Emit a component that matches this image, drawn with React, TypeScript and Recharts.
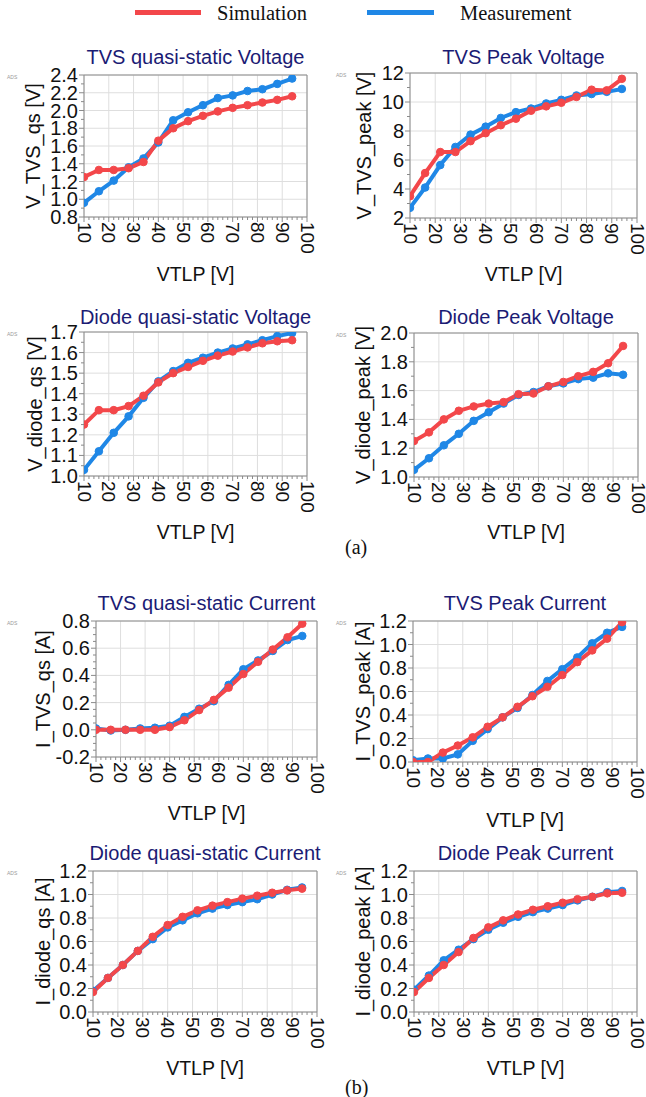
import React from "react";
import {
  LineChart,
  Line,
  XAxis,
  YAxis,
  CartesianGrid,
  ReferenceArea,
} from "recharts";

// VTLP sweep points (x) and axis ticks
const VTLP = [10, 16, 22, 28, 34, 40, 46, 52, 58, 64, 70, 76, 82, 88, 94];
const X_TICKS = [10, 20, 30, 40, 50, 60, 70, 80, 90, 100];

// (a) voltages
const SIM_TVS_QS_V = [1.25, 1.33, 1.33, 1.35, 1.42, 1.66, 1.8, 1.88, 1.94, 1.99, 2.03, 2.06, 2.09, 2.12, 2.16];
const MEAS_TVS_QS_V = [0.96, 1.09, 1.21, 1.36, 1.46, 1.64, 1.89, 1.98, 2.06, 2.14, 2.17, 2.22, 2.24, 2.3, 2.36];
const SIM_TVS_PEAK_V = [3.5, 5.1, 6.55, 6.55, 7.3, 7.85, 8.4, 8.85, 9.4, 9.7, 9.95, 10.35, 10.85, 10.8, 11.6];
const MEAS_TVS_PEAK_V = [2.7, 4.1, 5.65, 6.9, 7.75, 8.3, 8.9, 9.3, 9.55, 9.9, 10.15, 10.45, 10.55, 10.7, 10.9];
const SIM_DIODE_QS_V = [1.25, 1.32, 1.32, 1.34, 1.39, 1.455, 1.5, 1.53, 1.56, 1.585, 1.605, 1.625, 1.645, 1.655, 1.66];
const MEAS_DIODE_QS_V = [1.03, 1.12, 1.21, 1.29, 1.38, 1.46, 1.51, 1.55, 1.575, 1.6, 1.62, 1.64, 1.66, 1.68, 1.695];
const SIM_DIODE_PEAK_V = [1.25, 1.31, 1.4, 1.46, 1.49, 1.51, 1.52, 1.575, 1.58, 1.63, 1.66, 1.7, 1.73, 1.79, 1.91];
const MEAS_DIODE_PEAK_V = [1.05, 1.13, 1.22, 1.3, 1.39, 1.45, 1.51, 1.57, 1.59, 1.63, 1.65, 1.68, 1.69, 1.72, 1.71];

// (b) currents
const SIM_TVS_QS_I = [0.0, 0.0, 0.0, 0.0, 0.0, 0.02, 0.07, 0.145, 0.22, 0.31, 0.41, 0.5, 0.59, 0.68, 0.78];
const MEAS_TVS_QS_I = [0.01, -0.005, 0.0, 0.01, 0.015, 0.03, 0.095, 0.155, 0.21, 0.33, 0.445, 0.51, 0.58, 0.66, 0.69];
const SIM_TVS_PEAK_I = [0.0, 0.0, 0.08, 0.14, 0.21, 0.3, 0.38, 0.47, 0.56, 0.64, 0.74, 0.85, 0.95, 1.05, 1.19];
const MEAS_TVS_PEAK_I = [0.015, 0.03, 0.03, 0.065, 0.18, 0.28, 0.38, 0.46, 0.57, 0.69, 0.79, 0.89, 1.01, 1.1, 1.15];
const SIM_DIODE_QS_I = [0.17, 0.29, 0.4, 0.52, 0.64, 0.74, 0.81, 0.865, 0.905, 0.935, 0.965, 0.99, 1.015, 1.035, 1.05];
const MEAS_DIODE_QS_I = [0.18, 0.29, 0.4, 0.52, 0.62, 0.72, 0.78, 0.84, 0.88, 0.91, 0.935, 0.96, 1.0, 1.04, 1.06];
const SIM_DIODE_PEAK_I = [0.17, 0.29, 0.4, 0.51, 0.63, 0.72, 0.78, 0.83, 0.87, 0.9, 0.93, 0.96, 0.98, 1.01, 1.015];
const MEAS_DIODE_PEAK_I = [0.19, 0.31, 0.44, 0.53, 0.62, 0.7, 0.76, 0.81, 0.85, 0.88, 0.91, 0.95, 0.98, 1.02, 1.03];

// y ticks
const Y_TVS_QS_V = [0.8, 1.0, 1.2, 1.4, 1.6, 1.8, 2.0, 2.2, 2.4];
const Y_TVS_PEAK_V = [2, 4, 6, 8, 10, 12];
const Y_DIODE_QS_V = [1.0, 1.1, 1.2, 1.3, 1.4, 1.5, 1.6, 1.7];
const Y_DIODE_PEAK_V = [1.0, 1.2, 1.4, 1.6, 1.8, 2.0];
const Y_TVS_QS_I = [-0.2, 0.0, 0.2, 0.4, 0.6, 0.8];
const Y_CURRENT = [0.0, 0.2, 0.4, 0.6, 0.8, 1.0, 1.2];

const RED = "#f3474a";
const BLUE = "#1f87e6";
const NAVY = "#1b1b74";
const SANS = "'Liberation Sans', Arial, sans-serif";
const SERIF = "'Liberation Serif', 'Times New Roman', serif";

const YW = 70;
const MT = 10;
const XH = 50;
const MR = 10;

type Box = { l: number; t: number; r: number; b: number };

function xTick(props: any) {
  const { x, y, payload } = props;
  const major = payload.value % 10 === 0;
  return (
    <g>
      <line x1={x} x2={x} y1={y} y2={y + (major ? 5 : 3)} stroke="#8a8a8a" />
      {major && (
        <text
          x={x}
          y={y + 5}
          transform={`rotate(90 ${x} ${y + 5})`}
          textAnchor="start"
          dominantBaseline="central"
          fontSize={19}
          fontFamily={SANS}
          fill="#111"
        >
          {payload.value}
        </text>
      )}
    </g>
  );
}

function Panel({
  sim,
  meas,
  yTicks,
  yMinor,
  dec,
  box,
}: {
  sim: number[];
  meas: number[];
  yTicks: number[];
  yMinor: number;
  dec: number;
  box: Box;
}) {
  const { l, t, r, b } = box;
  const rows = VTLP.map((v, i) => ({ v, sim: sim[i], meas: meas[i] }));
  const yMin = yTicks[0];
  const yMax = yTicks[yTicks.length - 1];
  const n = Math.round((yMax - yMin) / yMinor);
  const yAll = Array.from({ length: n + 1 }, (_, i) => +(yMin + i * yMinor).toFixed(4));
  const xAll = Array.from({ length: 46 }, (_, i) => 10 + 2 * i);
  const isMajor = (v: number) => yTicks.some((k) => Math.abs(k - v) < 1e-6);

  const yTick = (props: any) => {
    const { x, y, payload } = props;
    const major = isMajor(payload.value);
    return (
      <g>
        <line x1={x - (major ? 5 : 3)} x2={x} y1={y} y2={y} stroke="#8a8a8a" />
        {major && (
          <text
            x={x - 6}
            y={y}
            textAnchor="end"
            dominantBaseline="central"
            fontSize={20}
            fontFamily={SANS}
            fill="#111"
          >
            {payload.value.toFixed(dec)}
          </text>
        )}
      </g>
    );
  };

  return (
    <div style={{ position: "absolute", left: l - YW, top: t - MT }}>
      <LineChart
        width={r - l + YW + MR}
        height={b - t + MT + XH}
        data={rows}
        margin={{ top: MT, right: MR, bottom: 0, left: 0 }}
      >
        <CartesianGrid stroke="#dedede" horizontalValues={yTicks} verticalValues={X_TICKS} />
        <XAxis
          type="number"
          dataKey="v"
          domain={[10, 100]}
          ticks={xAll}
          interval={0}
          height={XH}
          tickSize={0}
          tickMargin={0}
          axisLine={false}
          tick={xTick}
          allowDataOverflow
        />
        <YAxis
          type="number"
          domain={[yMin, yMax]}
          ticks={yAll}
          interval={0}
          width={YW}
          tickSize={0}
          tickMargin={0}
          axisLine={false}
          tick={yTick}
          allowDataOverflow
        />
        <ReferenceArea x1={10} x2={100} y1={yMin} y2={yMax} fill="none" stroke="#8c8c8c" ifOverflow="visible" />
        <Line
          type="linear"
          dataKey="meas"
          stroke={BLUE}
          strokeWidth={4}
          dot={{ r: 3.8, fill: BLUE, stroke: BLUE, strokeWidth: 1 }}
          isAnimationActive={false}
        />
        <Line
          type="linear"
          dataKey="sim"
          stroke={RED}
          strokeWidth={4}
          dot={{ r: 3.8, fill: RED, stroke: RED, strokeWidth: 1 }}
          isAnimationActive={false}
        />
      </LineChart>
    </div>
  );
}

const PANELS = [
  { title: "TVS quasi-static Voltage", yLabel: "V_TVS_qs [V]", sim: SIM_TVS_QS_V, meas: MEAS_TVS_QS_V, yTicks: Y_TVS_QS_V, yMinor: 0.1, dec: 1, box: { l: 84, t: 75, r: 307, b: 217 }, titleY: 57, xLabelY: 274, yLabelX: 33 },
  { title: "TVS Peak Voltage", yLabel: "V_TVS_peak [V]", sim: SIM_TVS_PEAK_V, meas: MEAS_TVS_PEAK_V, yTicks: Y_TVS_PEAK_V, yMinor: 1, dec: 0, box: { l: 410, t: 73, r: 637, b: 218 }, titleY: 57, xLabelY: 274, yLabelX: 364 },
  { title: "Diode quasi-static Voltage", yLabel: "V_diode_qs [V]", sim: SIM_DIODE_QS_V, meas: MEAS_DIODE_QS_V, yTicks: Y_DIODE_QS_V, yMinor: 0.05, dec: 1, box: { l: 84, t: 332, r: 307, b: 476 }, titleY: 317, xLabelY: 532, yLabelX: 35 },
  { title: "Diode Peak Voltage", yLabel: "V_diode_peak [V]", sim: SIM_DIODE_PEAK_V, meas: MEAS_DIODE_PEAK_V, yTicks: Y_DIODE_PEAK_V, yMinor: 0.1, dec: 1, box: { l: 414, t: 333, r: 638, b: 477 }, titleY: 317, xLabelY: 532, yLabelX: 363 },
  { title: "TVS quasi-static Current", yLabel: "I_TVS_qs [A]", sim: SIM_TVS_QS_I, meas: MEAS_TVS_QS_I, yTicks: Y_TVS_QS_I, yMinor: 0.05, dec: 1, box: { l: 96, t: 621, r: 317, b: 757 }, titleY: 603, xLabelY: 813, yLabelX: 43 },
  { title: "TVS Peak Current", yLabel: "I_TVS_peak [A]", sim: SIM_TVS_PEAK_I, meas: MEAS_TVS_PEAK_I, yTicks: Y_CURRENT, yMinor: 0.1, dec: 1, box: { l: 413, t: 621, r: 637, b: 762 }, titleY: 603, xLabelY: 820, yLabelX: 363 },
  { title: "Diode quasi-static Current", yLabel: "I_diode_qs [A]", sim: SIM_DIODE_QS_I, meas: MEAS_DIODE_QS_I, yTicks: Y_CURRENT, yMinor: 0.1, dec: 1, box: { l: 93, t: 871, r: 317, b: 1012 }, titleY: 853, xLabelY: 1068, yLabelX: 43 },
  { title: "Diode Peak Current", yLabel: "I_diode_peak [A]", sim: SIM_DIODE_PEAK_I, meas: MEAS_DIODE_PEAK_I, yTicks: Y_CURRENT, yMinor: 0.1, dec: 1, box: { l: 414, t: 871, r: 637, b: 1012 }, titleY: 853, xLabelY: 1068, yLabelX: 363 },
];

export default function App() {
  return (
    <div style={{ position: "absolute", left: 0, top: 0, width: 646, height: 1097, background: "#fff", overflow: "hidden" }}>
      {PANELS.map((p, i) => (
        <Panel key={i} sim={p.sim} meas={p.meas} yTicks={p.yTicks} yMinor={p.yMinor} dec={p.dec} box={p.box} />
      ))}
      <svg width={646} height={1097} style={{ position: "absolute", left: 0, top: 0, pointerEvents: "none" }}>
        {/* legend */}
        <line x1={135} x2={201} y1={12.5} y2={12.5} stroke={RED} strokeWidth={5} />
        <text x={217} y={13} dominantBaseline="central" fontSize={20.5} fontFamily={SERIF} fill="#111">Simulation</text>
        <line x1={367} x2={434} y1={12.5} y2={12.5} stroke={BLUE} strokeWidth={5} />
        <text x={460} y={13} dominantBaseline="central" fontSize={20.5} fontFamily={SERIF} fill="#111">Measurement</text>

        {PANELS.map((p, i) => {
          const cx = (p.box.l + p.box.r) / 2;
          const cy = (p.box.t + p.box.b) / 2;
          const left = p.box.l < 200;
          return (
            <g key={i}>
              <text x={cx} y={p.titleY} textAnchor="middle" dominantBaseline="central" fontSize={20} fontFamily={SANS} fill={NAVY}>
                {p.title}
              </text>
              <text x={cx} y={p.xLabelY} textAnchor="middle" dominantBaseline="central" fontSize={19.5} fontFamily={SANS} fill="#111">
                VTLP [V]
              </text>
              <text
                x={p.yLabelX}
                y={cy}
                transform={`rotate(-90 ${p.yLabelX} ${cy})`}
                textAnchor="middle"
                dominantBaseline="central"
                fontSize={20}
                fontFamily={SANS}
                fill="#111"
              >
                {p.yLabel}
              </text>
              <text x={left ? 7 : 336} y={p.box.t + 4} fontSize={5} fontFamily={SANS} fill="#9a9a9a">
                ADS
              </text>
            </g>
          );
        })}

        <text x={345} y={547} dominantBaseline="central" fontSize={20} fontFamily={SERIF} fill="#111">(a)</text>
        <text x={345} y={1087} dominantBaseline="central" fontSize={20} fontFamily={SERIF} fill="#111">(b)</text>
      </svg>
    </div>
  );
}
